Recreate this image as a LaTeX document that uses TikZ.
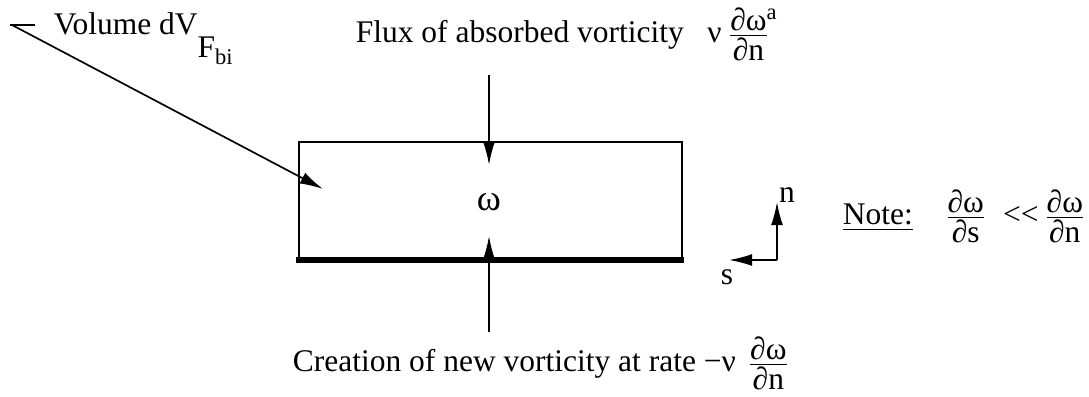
\documentclass[tikz,border=0pt]{standalone}
\usepackage{fontspec}
\setmainfont{Liberation Serif}
\usepackage{amsmath}
\usetikzlibrary{
  arrows.meta,
  calc,
  positioning
}
\tikzset{
  >={Latex[length=2.9mm,width=1.5mm]},
  line cap=round,
  line join=round,
  every picture/.style={line width=0.6pt},
  ctrlvol/.style={draw, minimum width=4.7875cm, minimum height=1.475cm, inner sep=0pt},
  arrow/.style={->},
  wall/.style={line width=1.9pt, line cap=butt},
  lbl/.style={inner sep=0pt, font=\fontsize{11.2}{13.5}\selectfont}
}
\newcommand{\pfrac}[2]{\ensuremath{\genfrac{}{}{0.5pt}{}{\hbox{#1}}{\hbox{#2}}}}

\begin{document}
\begin{tikzpicture}
    \useasboundingbox (0,0) rectangle (13.6125,4.9625);
    \node[ctrlvol] (vol) at (6.13125,2.45) {};
    \draw[wall] (3.7,1.7125) -- (8.55,1.7125);
    \node[lbl, font=\fontsize{13}{15}\selectfont] (omega) at (6.1125,2.4375) {ω};

    \node[lbl, anchor=base west] (fluxlbl) at (4.4375,4.425)
      {Flux of absorbed vorticity\hspace{0.75em}ν\,\pfrac{∂ω\rlap{\raisebox{0.35em}{\footnotesize a}}}{∂n}};
    \coordinate (fluxtail) at (6.1125,4.025);
    \coordinate (fluxtip) at (6.1125,2.9);
    \draw[arrow] (fluxtail) -- (fluxtip);

    \node[lbl, anchor=base west] (createlbl) at (3.65,0.3125)
      {Creation of new vorticity at rate −ν\hspace{0.35em}\pfrac{∂ω}{∂n}};
    \coordinate (createtail) at (6.1125,0.8125);
    \coordinate (createtip) at (6.1125,2.0125);
    \draw[arrow] (createtail) -- (createtip);

    \node[lbl, anchor=base west] (volumelbl) at (0.6625,4.525)
      {Volume dV\raisebox{-0.7em}{F\raisebox{-0.25em}{\footnotesize bi}}};
    \coordinate (voltail) at (0.15,4.65);
    \coordinate (voltip) at (4.0375,2.6);
    \draw (0.125,4.65) -- (0.4375,4.65);
    \draw[arrow] (voltail) -- (voltip);

    \coordinate (origin) at (9.7125,1.7125);
    \coordinate (ntip) at (9.7125,2.4375);
    \coordinate (stip) at (9.1125,1.7125);
    \draw[arrow] (origin) -- (ntip);
    \draw[arrow] (origin) -- (stip);
    \node[lbl] (nlbl) at (9.8375,2.525) {n};
    \node[lbl] (slbl) at (9.0875,1.5) {s};

    \node[lbl, anchor=base west] (notelbl) at (10.525,2.15)
      {\underline{Note:}\hspace{1em}\pfrac{∂ω}{∂s}\hspace{0.5em}<{}<\hspace{0.15em}\pfrac{∂ω}{∂n}};
  \end{tikzpicture}
\end{document}
